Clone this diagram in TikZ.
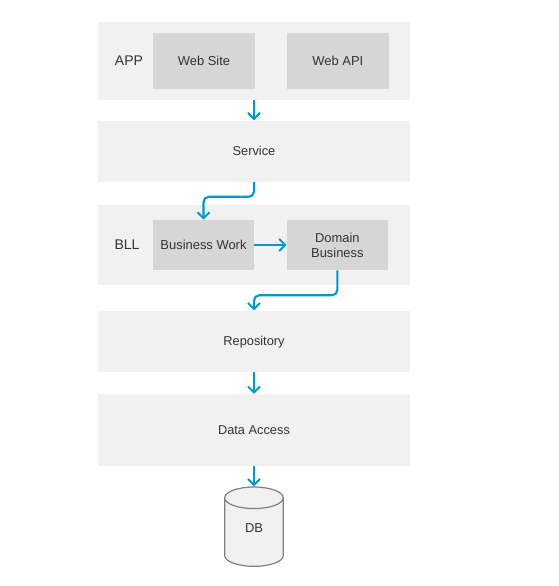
\documentclass[tikz,border=0pt]{standalone}
\usepackage{fontspec}
\setmainfont{Liberation Sans}
\usetikzlibrary{arrows.meta,positioning,shapes.geometric}
\definecolor{panelgray}{HTML}{F1F1F1}
\definecolor{innergray}{HTML}{D6D6D6}
\definecolor{flowblue}{HTML}{0099CC}
\definecolor{textgray}{HTML}{333333}
\tikzstyle{panel}=[fill=panelgray,minimum width=234pt,inner sep=0pt,text=textgray,text depth=0pt,font=\fontsize{9.6pt}{11pt}\selectfont]
\tikzstyle{inner}=[fill=innergray,minimum width=76pt,inner sep=0pt,text=textgray,align=center,font=\fontsize{9.7pt}{11.3pt}\selectfont]
\tikzstyle{tag}=[inner sep=0pt,text=textgray,font=\fontsize{10.5pt}{12pt}\selectfont]
\tikzstyle{flow}=[draw=flowblue,line width=1.6pt,rounded corners=4pt,-{Straight Barb[length=4.5pt,width=9pt,line width=1.5pt]}]

\begin{document}
\begin{tikzpicture}[x=0.75pt,y=-0.75pt]
    \useasboundingbox (0,0) rectangle (559,586);
    % layers
    \node[panel,minimum height=58.5pt](app) at (254,61) {};
    \node[panel,minimum height=45.75pt,below=15pt of app](service) {Service};
    \node[panel,minimum height=60pt,below=17.25pt of service](bll) {};
    \node[panel,minimum height=45.75pt,below=18.75pt of bll](repository) {Repository};
    \node[panel,minimum height=54pt,below=16.5pt of repository](access) {Data Access};
    % boxes inside the layers
    \node[inner,minimum height=42pt](site) at (204,61) {Web Site};
    \node[inner,minimum height=42pt,right=24pt of site](api) {Web API};
    \node[inner,minimum width=75.75pt,minimum height=37.5pt](work) at (203.5,245) {Business Work};
    \node[inner,minimum width=75.75pt,minimum height=37.5pt,right=24.25pt of work](domain) {Domain\\Business};
    \node[tag](applabel) at (129,61) {APP};
    \node[tag](blllabel) at (127,245) {BLL};
    % database
    \node[cylinder,shape border rotate=90,aspect=1.2,draw=black!50,line width=0.9pt,
        cylinder uses custom fill,cylinder body fill=panelgray,cylinder end fill=panelgray,
        minimum width=44pt,minimum height=59.5pt,inner sep=0pt,text=textgray,
        font=\fontsize{9.7pt}{11pt}\selectfont,below=15pt of access](db) {\raisebox{7pt}{DB}};
    % connectors
    \draw[flow] (app) -- (service);
    \draw[flow] (service.south) -- ++(0,15) -| (work.north);
    \draw[flow] (work) -- (domain);
    \draw[flow] (domain.south) -- ++(0,25) -| (repository.north);
    \draw[flow] (repository) -- (access);
    \draw[flow] (access.south) -- (access.south |- db.north);
\end{tikzpicture}
\end{document}
